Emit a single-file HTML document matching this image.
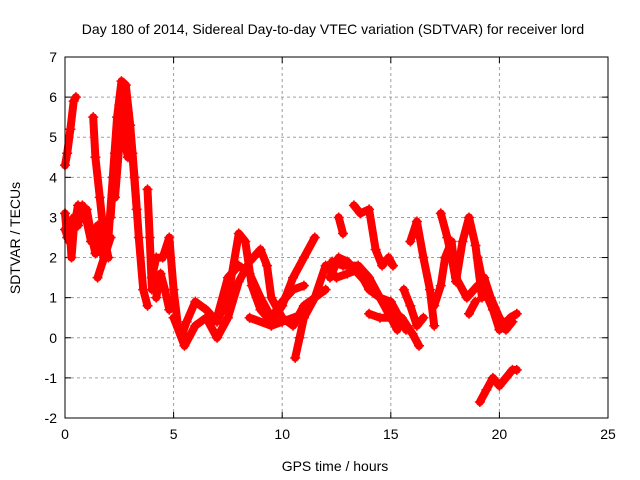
<!DOCTYPE html>
<html><head><meta charset="utf-8"><style>
body{margin:0;background:#fff}
svg{display:block;font-family:"Liberation Sans",sans-serif}
</style></head><body>
<svg id="chart" width="640" height="480" viewBox="0 0 640 480">
<text x="333" y="34" text-anchor="middle" font-size="14">Day 180 of 2014, Sidereal Day-to-day VTEC variation (SDTVAR) for receiver lord</text>
<text x="335" y="471" text-anchor="middle" font-size="14">GPS time / hours</text>
<text transform="translate(20,238) rotate(-90)" text-anchor="middle" font-size="14">SDTVAR / TECUs</text>
<g id="grid"></g><g id="ticks"></g><g id="marks"></g>
<rect x="65" y="57" width="543" height="361" fill="none" stroke="#000"/>
</svg>
<script>
const xTicks=[0,5,10,15,20,25];
const yTicks=[-2,-1,0,1,2,3,4,5,6,7];
const tracks=[
[[0,4.3],[0.1,4.6],[0.25,5.2],[0.4,5.9],[0.5,6.0]],
[[0,3.1],[0.1,2.5],[0.2,2.9],[0.3,2.0],[0.4,2.7],[0.6,3.3],[0.8,3.0],[1.0,3.2],[1.2,2.6],[1.4,2.1],[1.6,2.4],[1.8,2.3],[2.0,2.5]],
[[0,2.7],[0.2,2.4],[0.4,3.0],[0.6,2.8],[0.8,3.3],[1.0,2.9],[1.2,2.4],[1.5,2.8],[1.7,2.1]],
[[2.0,2.5],[2.2,4.0],[2.4,5.5],[2.6,6.4],[2.8,6.3],[3.0,5.3],[3.2,4.0],[3.4,2.5],[3.6,1.2],[3.8,0.8]],
[[2.1,3.0],[2.3,4.6],[2.5,5.8],[2.7,5.0],[2.9,4.5]],
[[2.3,3.5],[2.5,4.8],[2.7,6.0],[2.9,5.6],[3.1,4.6],[3.3,3.2]],
[[1.3,5.5],[1.4,4.5],[1.6,3.5],[1.8,2.5],[2.0,2.0]],
[[1.5,1.5],[1.8,2.0],[2.1,2.5]],
[[3.8,3.7],[3.9,2.5],[4.0,1.2]],
[[4.0,1.5],[4.2,2.0],[4.5,2.0],[4.8,2.5],[5.0,1.2],[5.2,0.3],[5.4,0.1],[5.6,0.4],[6.0,0.9],[6.5,0.7],[7.0,0.4],[7.5,1.0],[8.0,2.6],[8.3,2.4],[8.6,1.3],[9.0,0.7],[9.5,0.4],[10,0.8],[10.5,1.5],[11,2.0],[11.5,2.5]],
[[4.2,1.0],[4.4,1.6],[4.6,1.2],[4.8,0.7]],
[[5.0,0.5],[5.5,-0.2],[6.0,0.3],[6.5,0.5],[7.0,0.0],[7.5,0.5],[8.0,1.4],[8.5,1.9],[9.0,2.2],[9.3,1.8],[9.5,1.0],[10.0,0.5],[10.5,0.3],[11,0.8],[11.5,1.0],[12,1.2]],
[[7.0,0.5],[7.5,1.5],[8.0,1.8],[8.5,1.6],[9.0,1.0],[9.5,0.5],[10.0,0.9],[10.5,1.2],[11.0,1.3]],
[[8.5,0.5],[9.5,0.3],[10,0.4],[11,0.6]],
[[10.6,-0.5],[10.8,0],[11.0,0.5],[11.5,1.0],[12.0,1.8],[12.5,1.5],[13,1.6],[13.5,1.7],[14,1.2],[14.5,1.0],[15,0.5],[15.3,0.2]],
[[12.3,1.9],[12.8,1.8],[13.5,1.8],[14,1.5],[14.5,1.0],[15,0.9],[15.5,0.4],[15.7,0.2]],
[[12.2,1.5],[12.6,2.0],[13.0,1.9],[13.5,1.6],[14.0,1.3]],
[[12.6,3.0],[12.8,2.6]],
[[13.3,3.3],[13.6,3.1],[14,3.2],[14.3,2.2],[14.6,1.8],[14.9,2.0],[15.1,1.8]],
[[14,0.6],[14.5,0.5],[15,0.5],[15.5,0.5],[16,0.1],[16.3,-0.2]],
[[15.6,1.2],[15.9,0.8],[16.2,0.3],[16.5,0.5]],
[[15.9,2.4],[16.2,2.9],[16.5,2.0],[16.8,1.2],[17.0,0.3]],
[[17.3,3.1],[17.6,2.5],[17.8,2.0],[18.0,1.4],[18.3,2.4],[18.6,3.0],[18.9,2.3],[19.2,1.0]],
[[17.0,0.8],[17.3,1.3],[17.5,2.0],[17.8,2.4],[18.0,1.5],[18.5,1.0],[19.0,1.3]],
[[19.0,2.0],[19.3,1.2],[19.7,0.7],[20.0,0.2],[20.5,0.5],[20.8,0.6]],
[[19.3,1.5],[19.6,1.0],[20.0,0.5],[20.3,0.2],[20.6,0.4]],
[[18.6,0.6],[18.9,0.9]],
[[19.1,-1.6],[19.4,-1.3],[19.7,-1.0],[20.0,-1.2],[20.3,-1.0],[20.6,-0.8],[20.8,-0.8]]
];
const X0=65,X1=608,Y0=418,Y1=57;
function sx(t){return X0+(t-0)/(25-0)*(X1-X0);}
function sy(v){return Y0-(v+2)/(7+2)*(Y0-Y1);}
const NS="http://www.w3.org/2000/svg";
function mk(tag,attrs,parent){const e=document.createElementNS(NS,tag);for(const k in attrs)e.setAttribute(k,attrs[k]);parent.appendChild(e);return e;}
const grid=document.getElementById('grid'),ticks=document.getElementById('ticks'),marks=document.getElementById('marks');
xTicks.forEach(t=>{const x=sx(t);
 if(t>0&&t<25){const l=mk('line',{x1:x,y1:Y0,x2:x,y2:Y1,stroke:'#a0a0a0','stroke-dasharray':'3,3'},grid);
 
 }
 mk('line',{x1:x,y1:Y0,x2:x,y2:Y0-6,stroke:'#000'},ticks);mk('line',{x1:x,y1:Y1,x2:x,y2:Y1+6,stroke:'#000'},ticks);
 const tx=mk('text',{x:x,y:Y0+21,'text-anchor':'middle','font-size':'14'},ticks);tx.textContent=t;
 
 });
yTicks.forEach(v=>{const y=sy(v);
 if(v>-2&&v<7){const l=mk('line',{x1:X0,y1:y,x2:X1,y2:y,stroke:'#a0a0a0','stroke-dasharray':'3,3'},grid);
 
 }
 mk('line',{x1:X0,y1:y,x2:X0+6,y2:y,stroke:'#000'},ticks);mk('line',{x1:X1,y1:y,x2:X1-6,y2:y,stroke:'#000'},ticks);
 const tx=mk('text',{x:X0-8,y:y+5,'text-anchor':'end','font-size':'14'},ticks);tx.textContent=v;
 
 });
tracks.forEach((tr,i)=>{
 const pts=tr.map(p=>sx(p[0]).toFixed(1)+','+sy(p[1]).toFixed(1)).join(' ');
 const pl=mk('polyline',{points:pts,fill:'none',stroke:'#ff0000','stroke-width':'8','stroke-linejoin':'round','stroke-linecap':'round'},marks);
 
 
 tr.forEach(p=>{const x=sx(p[0]),y=sy(p[1]);
  const m=mk('path',{d:`M${x-5},${y}H${x+5}M${x},${y-5}V${y+5}`,stroke:'#ff0000','stroke-width':'1.5'},marks);
  
  });
});
</script>
</body></html>
